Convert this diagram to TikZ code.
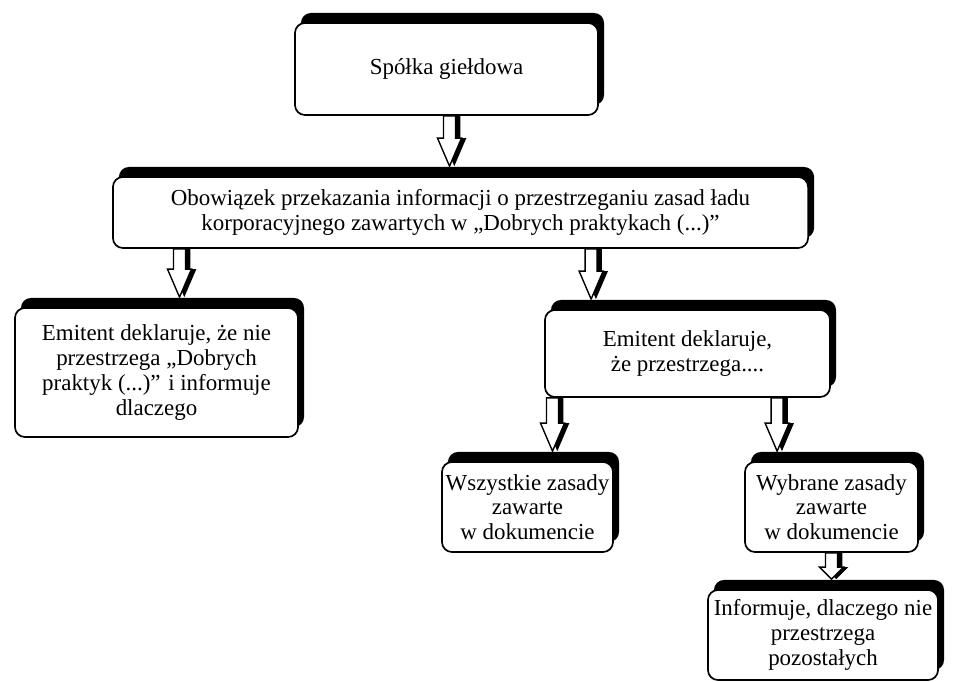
\documentclass[tikz,border=0pt]{standalone}
\usepackage{fontspec}
\setmainfont{Liberation Serif}
\usetikzlibrary{calc,shadows}

\newcommand{\shaftw}{0.15cm}
\newcommand{\headw}{0.3cm}
\newcommand{\blockarrow}[3][0.7cm]{%
  \fill[black] let \p1=(#2), \p2=(#3) in
    (\x1-\shaftw+0.12cm,\y1) -- (\x1-\shaftw+0.12cm,\y2+0.25cm+#1) -- (\x1-\headw+0.12cm,\y2+0.25cm+#1) -- (\x1+0.12cm,\y2+0.25cm)
    -- (\x1+\headw+0.12cm,\y2+0.25cm+#1) -- (\x1+\shaftw+0.12cm,\y2+0.25cm+#1) -- (\x1+\shaftw+0.12cm,\y1) -- cycle;
  \draw[fill=white,line width=1pt] let \p1=(#2), \p2=(#3) in
    (\x1-\shaftw,\y1) -- (\x1-\shaftw,\y2+0.25cm+#1) -- (\x1-\headw,\y2+0.25cm+#1) -- (\x1,\y2+0.25cm)
    -- (\x1+\headw,\y2+0.25cm+#1) -- (\x1+\shaftw,\y2+0.25cm+#1) -- (\x1+\shaftw,\y1) -- cycle;
}

\begin{document}
\begin{tikzpicture}[x=0.025cm,y=-0.025cm,
    font=\fontsize{16.3}{17.6}\selectfont,
    box/.style={draw,line width=1.2pt,rounded corners=0.25cm,fill=white,align=center,inner sep=2pt,
      general shadow={fill=black,shadow xshift=0.15cm,shadow yshift=0.25cm}}]
  \useasboundingbox (0,0) rectangle (979,682);

  % boxes
  \node[box,minimum width=7.575cm,minimum height=2.3cm] (spolka) at (446.5,69) {Spółka giełdowa};
  \node[box,minimum width=17.375cm,minimum height=1.775cm] (obowiazek) at (460.5,212.5)
    {Obowiązek przekazania informacji o przestrzeganiu zasad ładu\\korporacyjnego zawartych w „Dobrych praktykach (...)”};
  \node[box,minimum width=7.075cm,minimum height=3.225cm] (nieprzestrzega) at (156.5,372.5)
    {Emitent deklaruje, że nie\\przestrzega „Dobrych\\praktyk (...)” i informuje\\dlaczego};
  \node[box,minimum width=7.125cm,minimum height=2.175cm] (przestrzega) at (687.5,353.5)
    {Emitent deklaruje,\\że przestrzega....};
  \node[box,minimum width=4.275cm,minimum height=2.25cm] (wszystkie) at (527.5,507)
    {Wszystkie zasady\\zawarte\\w dokumencie};
  \node[box,minimum width=4.325cm,minimum height=2.25cm] (wybrane) at (831.5,507)
    {Wybrane zasady\\zawarte\\w dokumencie};
  \node[box,minimum width=5.75cm,minimum height=2.25cm] (informuje) at (823,635)
    {Informuje, dlaczego nie\\przestrzega\\pozostałych};

  % arrows
  \blockarrow{$(spolka.south)+(3,0)$}{obowiazek.north}
  \blockarrow{$(obowiazek.south -| nieprzestrzega.north)+(23,0)$}{nieprzestrzega.north}
  \blockarrow{$(obowiazek.south -| przestrzega.north west)+(47,0)$}{przestrzega.north}
  \blockarrow{$(przestrzega.south -| wszystkie.north)+(25,0)$}{wszystkie.north}
  \blockarrow{$(przestrzega.south -| wybrane.north west)+(33,0)$}{wybrane.north}
  \blockarrow[0.3cm]{wybrane.south}{informuje.north}
\end{tikzpicture}
\end{document}
